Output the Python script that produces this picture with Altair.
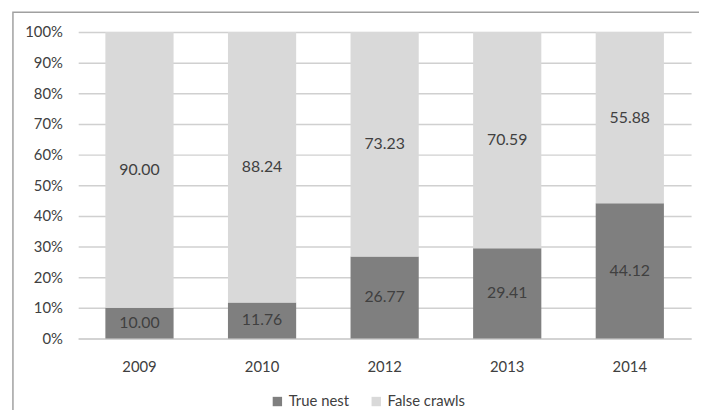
import altair as alt
import pandas as pd

years = ["2009", "2010", "2012", "2013", "2014"]
true_nest = [10.00, 11.76, 26.77, 29.41, 44.12]
false_crawls = [90.00, 88.24, 73.23, 70.59, 55.88]
series = ["True nest", "False crawls"]
colors = ["#7f7f7f", "#d9d9d9"]
y_ticks = [0, 10, 20, 30, 40, 50, 60, 70, 80, 90, 100]

rows = []
for i, y in enumerate(years):
    rows.append({"year": y, "series": series[0], "value": true_nest[i], "order": 0})
    rows.append({"year": y, "series": series[1], "value": false_crawls[i], "order": 1})
df = pd.DataFrame(rows)

FONT = "Lato"
W, H = 620, 310

x_axis = alt.Axis(labelAngle=0, ticks=False, domain=True, domainColor="#d0d0d0", domainWidth=1.5,
                  labelPadding=21, labelFontSize=15, labelColor="#404040", labelFont=FONT)
y_axis = alt.Axis(values=y_ticks, labelExpr="datum.value + '%'", labelOverlap=False,
                  ticks=False, domain=False, grid=True, gridColor="#d0d0d0", gridWidth=1.5,
                  labelPadding=16, labelFontSize=15, labelColor="#404040", labelFont=FONT)
x_scale = alt.Scale(paddingInner=0.44, paddingOuter=0.22)
y_scale = alt.Scale(domain=[0, 100], nice=False)

base = alt.Chart(df)

bars = base.mark_bar(size=69).encode(
    x=alt.X("year:N", sort=years, title=None, scale=x_scale, axis=x_axis),
    y=alt.Y("value:Q", stack="zero", title=None, scale=y_scale, axis=y_axis),
    color=alt.Color("series:N", sort=series,
                    scale=alt.Scale(domain=series, range=colors),
                    legend=alt.Legend(orient="none", legendX=194, legendY=366,
                                      direction="horizontal", title=None,
                                      symbolType="square", symbolSize=90, symbolStrokeWidth=0,
                                      labelFontSize=15, labelColor="#404040", labelFont=FONT,
                                      columnPadding=20, symbolOffset=0)),
    order=alt.Order("order:Q"),
)

labels = base.transform_stack(
    stack="value", groupby=["year"], as_=["v0", "v1"], sort=[alt.SortField("order")]
).transform_calculate(
    mid="(datum.v0 + datum.v1) / 2", txt="format(datum.value, '.2f')"
).mark_text(fontSize=16, color="#404040", font=FONT).encode(
    x=alt.X("year:N", sort=years, title=None, scale=x_scale, axis=x_axis),
    y=alt.Y("mid:Q", title=None, scale=y_scale, axis=y_axis),
    text="txt:N",
)

border = alt.Chart(pd.DataFrame({"a": [0]})).mark_rect(
    fill=None, stroke="#a0a0a0", strokeWidth=1.5
).encode(
    x=alt.value(-66), x2=alt.value(W + 30), y=alt.value(-20), y2=alt.value(H + 100)
)

chart = alt.layer(border, bars, labels).properties(
    width=W, height=H,
    autosize=alt.AutoSizeParams(type="none"),
    padding={"left": 71, "top": 22, "right": 8, "bottom": 70},
).configure(background="white").configure_view(stroke="transparent", strokeWidth=0)

chart.save("out.html", embed_options={"renderer": "svg", "actions": False})
